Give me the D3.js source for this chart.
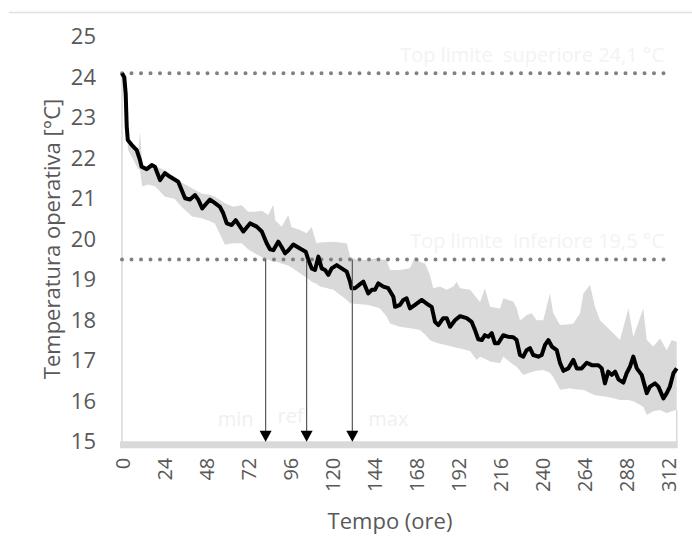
<!DOCTYPE html>
<html>
<head>
<meta charset="utf-8">
<script src="https://cdn.jsdelivr.net/npm/d3@7"></script>
<style>
  body { margin: 0; background: #fff; }
  svg { display: block; font-family: "Open Sans", sans-serif; }
</style>
</head>
<body>
<div id="chart"></div>
<script>
  // reference run (black line), hours vs operative temperature
  var lineHours = [0, 1.3, 2.1, 2.7, 3.3, 5.5, 8.4, 10.3, 11.2, 14.1, 17, 18.8, 21.7, 24.5, 27.4, 32.1, 34.1, 36, 38.8, 41.7,
                   43.6, 45.8, 50.2, 53.1, 55.9, 57.8, 59.8, 62.6, 64.9, 67.4, 69.3, 73.1, 76.9, 79.8, 82.6, 84.5, 86.4, 89.2, 91.2, 93.1,
                   94.9, 97.8, 101.6, 104.9, 106.4, 108.3, 110.2, 112.1, 114, 115.9, 117.8, 119.7, 122.6, 125.4, 128.3, 130.2, 131.1, 133, 135.9, 137.8,
                   140.6, 142.6, 144.4, 146.3, 149.2, 152, 154.9, 155.9, 158.7, 160.6, 162.5, 164.4, 167.3, 171.1, 174.9, 176.8, 178.7, 180.6, 183.4, 185.4,
                   187.3, 190.1, 193, 196.8, 199.6, 201.5, 203.4, 205.4, 207.2, 209.1, 211.1, 212.9, 214.8, 217.7, 220.5, 223.4, 225.3, 227.2, 229.1, 231,
                   232.9, 234.8, 237.7, 239.6, 241.5, 243.4, 245.4, 248.2, 250.1, 252, 254.8, 257.7, 259.6, 262.4, 265.3, 268.2, 271.9, 273.9, 275.7, 277.6,
                   279.6, 281.5, 283.4, 286.2, 288.1, 290, 291.9, 293.9, 296.7, 299.6, 301.4, 304.3, 306.2, 309.1, 311, 312.8, 314.8, 316.7];
  var lineTemp  = [24.1, 24.0, 23.6, 22.78, 22.45, 22.33, 22.2, 21.95, 21.79, 21.73, 21.83, 21.79, 21.46, 21.63, 21.54, 21.42, 21.21, 21.01, 20.98, 21.09,
                   20.97, 20.76, 20.98, 20.89, 20.8, 20.64, 20.39, 20.35, 20.47, 20.31, 20.19, 20.39, 20.31, 20.19, 19.9, 19.75, 19.73, 19.94, 19.8, 19.65,
                   19.72, 19.87, 19.77, 19.69, 19.49, 19.28, 19.24, 19.57, 19.28, 19.24, 19.12, 19.28, 19.36, 19.28, 19.2, 18.95, 18.79, 18.79, 18.89, 18.95,
                   18.66, 18.75, 18.75, 18.91, 18.83, 18.79, 18.58, 18.33, 18.38, 18.5, 18.54, 18.29, 18.38, 18.5, 18.38, 18.33, 17.96, 17.88, 18.05, 18.05,
                   17.84, 18.0, 18.1, 18.05, 17.96, 17.76, 17.53, 17.51, 17.63, 17.59, 17.68, 17.43, 17.43, 17.63, 17.59, 17.58, 17.51, 17.14, 17.1, 17.26,
                   17.31, 17.14, 17.1, 17.14, 17.39, 17.51, 17.35, 17.26, 16.94, 16.75, 16.81, 17.02, 16.81, 16.81, 16.95, 16.89, 16.89, 16.81, 16.44, 16.73,
                   16.65, 16.73, 16.54, 16.46, 16.69, 16.85, 17.1, 16.81, 16.65, 16.2, 16.36, 16.44, 16.36, 16.07, 16.2, 16.36, 16.69, 16.81];

  // spread of the other runs (grey band)
  var bandHours = [0, 2, 3.5, 6, 9, 10.3, 11.5, 15, 19, 24.5, 30, 34, 40, 45.5, 50, 53, 58.8, 63.5, 68.3, 72,
                   76, 80, 83.5, 86.4, 87.5, 91.2, 94.9, 96.8, 101.6, 105.4, 108.3, 111, 113, 120.7, 128.3, 130.2, 134, 139.7, 145.4, 147.3,
                   151, 153, 158.7, 164.4, 167.3, 170.1, 173, 175.8, 177.7, 181.5, 185.4, 189.2, 191.1, 193, 198.7, 202.5, 204.4, 207.2, 210.1, 215.8,
                   217.7, 223.4, 225.3, 227.2, 229.1, 231, 233.9, 236.7, 240.5, 244.3, 246.2, 250.1, 255.8, 257.7, 261.5, 263.4, 267.2, 270, 272.9, 276.7,
                   280.5, 284.3, 289.1, 291.9, 297.6, 299.6, 303.3, 307.2, 311, 313.8, 316.7];
  var bandMin   = [24.1, 23.0, 22.2, 22.0, 21.75, 21.7, 21.3, 21.35, 21.3, 21.05, 21.0, 20.8, 20.56, 20.52, 20.45, 20.39, 19.86, 19.9, 19.9, 19.75,
                   19.65, 19.55, 19.49, 19.45, 19.45, 19.4, 19.35, 19.3, 19.16, 19.05, 18.95, 18.9, 18.83, 18.75, 18.5, 18.42, 18.4, 18.38, 18.32, 18.29,
                   18.1, 17.92, 17.84, 17.8, 17.78, 17.76, 17.65, 17.51, 17.47, 17.42, 17.38, 17.34, 17.32, 17.3, 17.24, 17.02, 17.1, 17.05, 16.98, 16.94,
                   17.1, 16.9, 16.85, 16.75, 16.65, 16.68, 16.72, 16.75, 16.77, 16.7, 16.6, 16.28, 16.32, 16.3, 16.28, 16.28, 16.2, 16.15, 16.13, 16.11,
                   16.07, 16.03, 16.03, 16.0, 15.86, 15.66, 15.75, 15.78, 15.7, 15.75, 15.78];
  var bandMax   = [24.1, 23.4, 22.5, 22.3, 22.1, 22.65, 21.85, 21.75, 21.8, 21.7, 21.55, 21.4, 21.26, 21.13, 21.1, 21.05, 20.89, 20.8, 20.84, 20.68,
                   20.68, 20.7, 20.6, 20.85, 20.47, 20.31, 20.6, 20.3, 20.23, 20.15, 20.3, 19.9, 19.92, 19.94, 19.9, 19.57, 19.49, 19.49, 19.53, 19.5,
                   19.49, 19.24, 19.24, 19.28, 19.57, 19.44, 19.4, 19.12, 18.79, 18.83, 18.75, 18.83, 18.95, 18.79, 18.75, 18.55, 18.45, 18.79, 18.33, 18.29,
                   18.54, 18.46, 18.3, 18.0, 18.05, 18.13, 18.17, 18.0, 18.0, 18.66, 18.17, 17.88, 17.9, 17.92, 18.17, 18.66, 18.87, 18.33, 18.0, 17.84,
                   17.68, 17.51, 18.29, 17.59, 18.29, 17.51, 17.35, 17.55, 17.26, 17.51, 17.47];

  var xTicks = [0, 24, 48, 72, 96, 120, 144, 168, 192, 216, 240, 264, 288, 312];
  var yTicks = [15, 16, 17, 18, 19, 20, 21, 22, 23, 24, 25];

  var limits = [{value: 24.1, label: "Top limite  superiore 24,1 °C"},
                {value: 19.5, label: "Top limite  inferiore 19,5 °C"}];

  // hours at which the 19.5 °C limit is crossed
  var crossings = [{label: "min", hour: 82}, {label: "ref", hour: 105.4}, {label: "max", hour: 131.5}];

  var width = 692, height = 543;
  var textColor = "#595959", bandColor = "#d9d9d9";

  var x = d3.scaleLinear().domain([0, 312]).range([122, 668.5]);
  var y = d3.scaleLinear().domain([15, 25]).range([441.7, 36.7]);

  var svg = d3.select("#chart").append("svg")
      .attr("width", width)
      .attr("height", height);

  // frame line at the top
  svg.append("line")
      .attr("x1", 9).attr("x2", width)
      .attr("y1", 12.5).attr("y2", 12.5)
      .attr("stroke", "#e0e0e0").attr("stroke-width", 1.5);

  var band = bandHours.map((h, i) => ({h: h, lo: bandMin[i], hi: bandMax[i]}));
  var run = lineHours.map((h, i) => ({h: h, v: lineTemp[i]}));

  svg.append("path")
      .datum(band)
      .attr("fill", bandColor)
      .attr("d", d3.area().x(d => x(d.h)).y0(d => y(d.lo)).y1(d => y(d.hi)));

  // thin edges of the area, left and right
  var last = band[band.length - 1];
  svg.append("line")
      .attr("x1", x(0)).attr("x2", x(0))
      .attr("y1", y(15)).attr("y2", y(24.1))
      .attr("stroke", bandColor).attr("stroke-width", 1.5);
  svg.append("line")
      .attr("x1", x(last.h)).attr("x2", x(last.h))
      .attr("y1", y(15)).attr("y2", y(last.lo))
      .attr("stroke", bandColor).attr("stroke-width", 1.5);

  // thick grey base line
  svg.append("line")
      .attr("x1", x(0) - 2).attr("x2", x(last.h) + 1)
      .attr("y1", y(15) + 3).attr("y2", y(15) + 3)
      .attr("stroke", bandColor).attr("stroke-width", 7);

  // dotted limits + their (very faint) labels
  svg.selectAll(".limit").data(limits).enter().append("line")
      .attr("class", "limit")
      .attr("x1", x(0)).attr("x2", x(310))
      .attr("y1", d => y(d.value)).attr("y2", d => y(d.value))
      .attr("stroke", "#808080").attr("stroke-width", 4)
      .attr("stroke-linecap", "round")
      .attr("stroke-dasharray", "0 9.5");

  svg.selectAll(".limit-label").data(limits).enter().append("text")
      .attr("class", "limit-label")
      .attr("x", 664)
      .attr("y", d => y(d.value) - 18)
      .attr("dy", "0.35em")
      .attr("text-anchor", "end")
      .style("white-space", "pre")
      .style("font-size", "20px")
      .attr("fill", "#f3f3f3")
      .text(d => d.label);

  // the reference run
  svg.append("path")
      .datum(run)
      .attr("fill", "none")
      .attr("stroke", "#000")
      .attr("stroke-width", 4)
      .attr("stroke-linejoin", "round")
      .attr("d", d3.line().x(d => x(d.h)).y(d => y(d.v)));

  // arrows down from the lower limit
  var arrows = svg.selectAll(".cross").data(crossings).enter().append("g").attr("class", "cross");
  arrows.append("line")
      .attr("x1", d => x(d.hour)).attr("x2", d => x(d.hour))
      .attr("y1", y(19.5)).attr("y2", y(15) - 8)
      .attr("stroke", "#595959").attr("stroke-width", 1.2);
  arrows.append("path")
      .attr("d", d => {
        var cx = x(d.hour), tip = y(15);
        return "M" + (cx - 6) + "," + (tip - 11) + "L" + (cx + 6) + "," + (tip - 11) + "L" + cx + "," + tip + "Z";
      })
      .attr("fill", "#000");
  arrows.append("text")
      .attr("x", d => x(d.hour) - (d.label == "max" ? -36 : d.label == "ref" ? 16 : 30))
      .attr("y", d => d.label == "ref" ? 416 : 419)
      .attr("dy", "0.35em")
      .attr("text-anchor", "middle")
      .style("font-size", "20px")
      .attr("fill", "#f0f0f0")
      .text(d => d.label);

  // axes
  var yAxis = svg.append("g")
      .attr("transform", "translate(" + x(0) + ",0)")
      .call(d3.axisLeft(y).tickValues(yTicks).tickSize(0).tickPadding(26));
  yAxis.select(".domain").remove();
  yAxis.selectAll("text")
      .style("font-family", "'Open Sans', sans-serif")
      .style("font-size", "22px")
      .attr("fill", textColor);

  var xAxis = svg.append("g")
      .attr("transform", "translate(0," + y(15) + ")")
      .call(d3.axisBottom(x).tickValues(xTicks).tickSize(0));
  xAxis.select(".domain").remove();
  xAxis.selectAll("text")
      .attr("y", 0)
      .attr("x", -16)
      .attr("dy", "0.35em")
      .attr("transform", "rotate(-90)")
      .style("text-anchor", "end")
      .style("font-family", "'Open Sans', sans-serif")
      .style("font-size", "20px")
      .attr("fill", textColor);

  svg.append("text")
      .attr("x", 390).attr("y", 529)
      .attr("text-anchor", "middle")
      .style("font-size", "22px")
      .attr("fill", textColor)
      .text("Tempo (ore)");

  svg.append("text")
      .attr("transform", "translate(52,239) rotate(-90)")
      .attr("dy", "0.35em")
      .attr("text-anchor", "middle")
      .style("font-size", "22px")
      .attr("fill", textColor)
      .text("Temperatura operativa [°C]");
</script>
</body>
</html>
